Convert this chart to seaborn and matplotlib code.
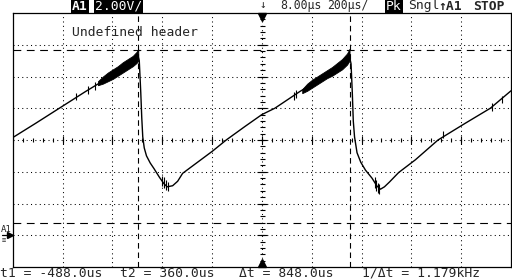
import numpy as np
import pandas as pd
import matplotlib
matplotlib.use("Agg")
import matplotlib.pyplot as plt
import seaborn as sns

# ---- data (time in microseconds, voltage in volts) ----
time_us = [-992, -900, -805, -700, -600, -540, -500, -490,
           -484, -478, -474, -470, -464, -455, -440, -425, -403, -385, -372,
           -350, -330, -310, -250, -190, -135, -60, 8, 60, 160, 260, 320, 350, 358,
           366, 371, 375, 380, 390, 405, 424, 450, 470, 484,
           500, 520, 557, 624, 715, 824, 925, 1008]
volts = [6.15, 7.05, 8.0, 9.05, 10.0, 10.6, 11.1, 11.35,
         11.0, 9.0, 7.4, 6.2, 5.5, 5.0, 4.55, 4.2, 3.65, 3.25, 3.05,
         3.12, 3.4, 3.9, 4.6, 5.3, 6.0, 6.85, 7.6, 8.0, 9.05, 10.0, 10.6, 11.1, 11.4,
         10.8, 9.0, 7.2, 6.2, 5.2, 4.6, 4.1, 3.6, 3.1, 2.9,
         3.05, 3.35, 3.95, 4.75, 6.0, 7.05, 8.0, 9.1]

# peak-detect noise envelopes near the peaks
band1_t = [-650, -630, -610, -590, -570, -550, -530, -510, -495, -488]
band1_hi = [9.7, 10.0, 10.25, 10.45, 10.65, 10.9, 11.1, 11.3, 11.55, 11.72]
band1_lo = [9.45, 9.55, 9.7, 9.85, 10.05, 10.25, 10.45, 10.65, 10.85, 11.0]
band2_t = [170, 190, 210, 230, 250, 270, 290, 310, 330, 350, 360]
band2_hi = [9.2, 9.55, 9.8, 10.0, 10.2, 10.4, 10.6, 10.85, 11.1, 11.45, 11.75]
band2_lo = [8.95, 9.1, 9.3, 9.5, 9.7, 9.9, 10.05, 10.25, 10.45, 10.75, 11.0]

# isolated glitches
spike_t = [-736, -689, -662, 137, 145, -392, -384, -376, -368, 462, 468, 474, 480, 737, 931, 971]
spike_lo = [8.5, 8.9, 9.15, 8.55, 8.65, 3.1, 3.0, 2.85, 2.8, 3.0, 2.8, 2.65, 2.6, 6.1, 7.85, 8.3]
spike_hi = [8.95, 9.4, 9.65, 9.05, 9.15, 3.75, 3.7, 3.5, 3.35, 3.65, 3.5, 3.3, 3.25, 6.55, 8.35, 8.8]

cursor_t = [-488.0, 360.0]
cursor_v = [11.67, 0.75]

center_t = 8.0
t_per_div = 200.0
v_per_div = 2.0
ground_v = 0.0

header = "Undefined header"
top_labels = ["A1", "2.00V/", "8.00µs", "200µs/", "Pk", "Sngl", "↑A1", "STOP"]
bottom_labels = ["t1 = -488.0us", "t2 = 360.0us", "Δt = 848.0us", "1/Δt = 1.179kHz"]

# ---- drawing ----
sns.set_style("white")
plt.rcParams['font.family'] = ['DejaVu Sans Mono', 'DejaVu Sans']

W, H = 512, 280
fig = plt.figure(figsize=(W / 100, H / 100), dpi=100)
ax = fig.add_axes([12.7 / W, 13 / H, 498.3 / W, 254 / H])
ax.set_xlim(center_t - 5 * t_per_div, center_t + 5 * t_per_div)
ax.set_ylim(6 - 4 * v_per_div, 6 + 4 * v_per_div)

for s in ax.spines.values():
    s.set_color("black")
    s.set_linewidth(0.9)
ax.set_xticks([])
ax.set_yticks([])

dot = (0, (1, 3.2))
for k in range(-4, 5):
    ax.axvline(center_t + k * t_per_div, color="black", lw=0.75, ls=dot, zorder=1)
for k in range(-3, 4):
    ax.axhline(6 + k * v_per_div, color="black", lw=0.75, ls=dot, zorder=1)

# minor ticks on centre cross
xm = np.arange(center_t - 5 * t_per_div, center_t + 5 * t_per_div + 1, t_per_div / 5)
ax.plot(xm, np.full_like(xm, 6.0), ls="none", marker="|", ms=3, mew=0.8, color="black", zorder=2)
xM = np.arange(center_t - 4 * t_per_div, center_t + 5 * t_per_div, t_per_div)
ax.plot(xM, np.full_like(xM, 6.0), ls="none", marker="|", ms=6, mew=0.8, color="black", zorder=2)
ym = np.arange(-2, 14.01, v_per_div / 5)
ax.plot(np.full_like(ym, center_t), ym, ls="none", marker="_", ms=3.6, mew=0.8, color="black", zorder=2)
yM = np.arange(0, 13, v_per_div)
ax.plot(np.full_like(yM, center_t), yM, ls="none", marker="_", ms=6.5, mew=0.8, color="black", zorder=2)

# cursors
for t in cursor_t:
    ax.axvline(t, color="black", lw=0.8, ls=(0, (5, 3.5)), zorder=2)
for v in cursor_v:
    ax.axhline(v, color="black", lw=0.8, ls=(0, (7, 5)), zorder=2)

# waveform
df = pd.DataFrame({"t": time_us, "v": volts})
sns.lineplot(data=df, x="t", y="v", estimator=None, sort=False, color="black", lw=1.0, ax=ax, zorder=4)
ax.fill_between(band1_t, band1_lo, band1_hi, color="black", lw=0.6, edgecolor="black", zorder=4)
ax.fill_between(band2_t, band2_lo, band2_hi, color="black", lw=0.6, edgecolor="black", zorder=4)
ax.vlines(spike_t, spike_lo, spike_hi, color="black", lw=0.8, zorder=4)
ax.set_xlabel("")
ax.set_ylabel("")

# trigger markers
ax.plot([center_t], [14 - 0.25], marker="v", ms=6, color="black", clip_on=False, zorder=5)
ax.plot([center_t], [-2 + 0.25], marker="^", ms=6, color="black", clip_on=False, zorder=5)

# ground marker
ax.plot([-992 - 10], [ground_v], marker=">", ms=4, color="black", clip_on=False, zorder=5)
ax.plot([-992 - 44, -992 - 10], [ground_v, ground_v], color="black", lw=0.9, clip_on=False)


def px(x, y):
    return x / W, 1 - y / H


fs = 9.4
fig.text(*px(72, 33), header, fontsize=fs, va="center", ha="left")
fig.text(*px(0.5, 229), "A1", fontsize=6.5, va="center", ha="left")
fig.text(*px(2, 240), "≡", fontsize=5, va="center", ha="left")

# top status line
tops_x = [72, 95, 280, 327, 386, 408, 438, 473]
for s, x in zip(top_labels, tops_x):
    kw = dict(fontsize=fs, va="center", ha="left")
    if "µs" in s:
        kw["fontsize"] = 8.3
    if s in ("A1", "2.00V/", "Pk"):
        kw.update(color="white", bbox=dict(facecolor="black", edgecolor="none", pad=0.8))
    if s in ("A1", "↑A1", "STOP"):
        kw.update(fontweight="bold")
    fig.text(*px(x, 6), s, **kw)
fig.text(*px(259, 5), "↓", fontsize=8, va="center", ha="left")

# bottom cursor readout
bot_x = [0, 120, 239, 362]
for s, x in zip(bottom_labels, bot_x):
    fig.text(*px(x, 273.5), s, fontsize=fs, va="center", ha="left")

fig.savefig("out.png", dpi=100, facecolor="white")
